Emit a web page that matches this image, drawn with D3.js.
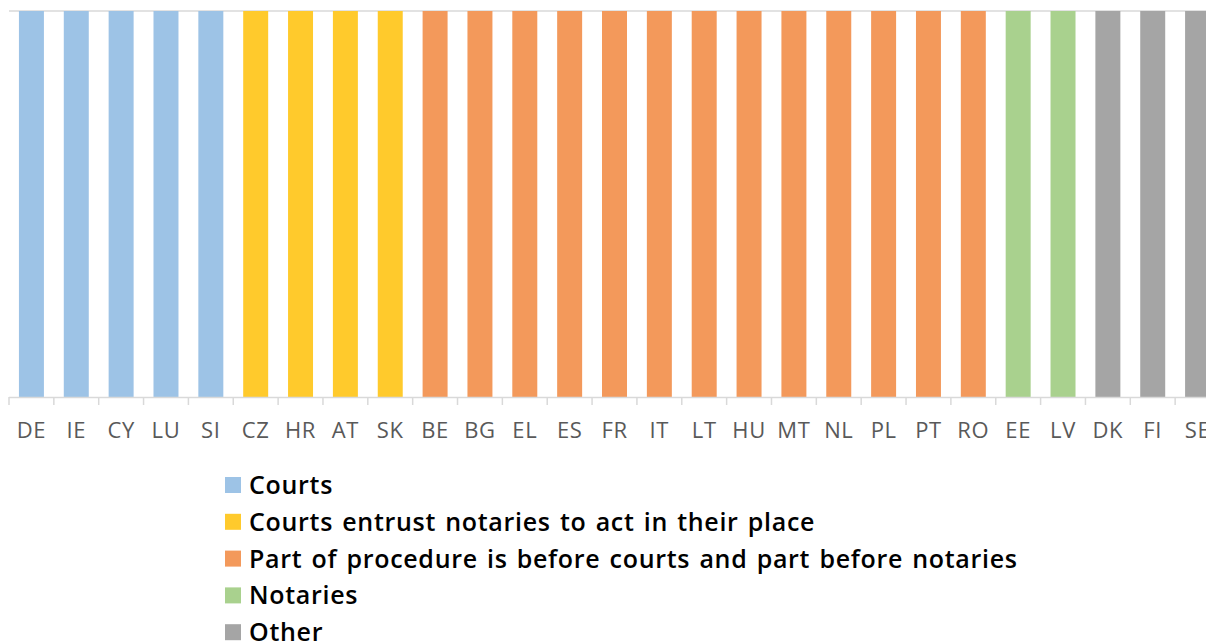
<!DOCTYPE html>
<html><head><meta charset="utf-8">
<script src="https://cdn.jsdelivr.net/npm/d3@7"></script>
<style>body{margin:0;background:#fff;overflow:hidden}</style>
</head><body><svg id="c" width="1206" height="642"></svg>
<script>
const categories = ["DE","IE","CY","LU","SI","CZ","HR","AT","SK","BE","BG","EL","ES","FR","IT","LT","HU","MT","NL","PL","PT","RO","EE","LV","DK","FI","SE"];
const values = [1,1,1,1,1,1,1,1,1,1,1,1,1,1,1,1,1,1,1,1,1,1,1,1,1,1,1];
const groups = ["Courts","Courts","Courts","Courts","Courts",
  "Courts entrust notaries to act in their place","Courts entrust notaries to act in their place","Courts entrust notaries to act in their place","Courts entrust notaries to act in their place",
  "Part of procedure is before courts and part before notaries","Part of procedure is before courts and part before notaries","Part of procedure is before courts and part before notaries","Part of procedure is before courts and part before notaries","Part of procedure is before courts and part before notaries","Part of procedure is before courts and part before notaries","Part of procedure is before courts and part before notaries","Part of procedure is before courts and part before notaries","Part of procedure is before courts and part before notaries","Part of procedure is before courts and part before notaries","Part of procedure is before courts and part before notaries","Part of procedure is before courts and part before notaries","Part of procedure is before courts and part before notaries",
  "Notaries","Notaries","Other","Other","Other"];
const legendLabels = ["Courts","Courts entrust notaries to act in their place","Part of procedure is before courts and part before notaries","Notaries","Other"];
const colors = ["#9dc3e6","#ffca2c","#f3995b","#a9d18e","#a5a5a5"];

const svg = d3.select("#c");
const x = d3.scaleBand().domain(categories).range([9, 1220]).paddingInner(0.443).paddingOuter(0.2215);
const y = d3.scaleLinear().domain([0,1]).range([397, 11]);
const color = d3.scaleOrdinal().domain(legendLabels).range(colors);

svg.append("line").attr("x1",9).attr("x2",1220).attr("y1",y(1)).attr("y2",y(1))
  .attr("stroke","#d9d9d9").attr("stroke-width",1.5);

svg.selectAll("rect.bar").data(categories).join("rect").attr("class","bar")
  .attr("x", d=>x(d)).attr("width", x.bandwidth())
  .attr("y", (d,i)=>y(values[i])).attr("height",(d,i)=>y(0)-y(values[i]))
  .attr("fill",(d,i)=>color(groups[i]));

const step = x.step();
const bounds = d3.range(categories.length+1).map(i=>9+i*step);
const ax = svg.append("g");
ax.append("line").attr("x1",9).attr("x2",1220).attr("y1",397.5).attr("y2",397.5).attr("stroke","#d9d9d9").attr("stroke-width",1.5);
ax.selectAll("line.t").data(bounds).join("line").attr("class","t")
  .attr("x1",d=>d).attr("x2",d=>d).attr("y1",397).attr("y2",405).attr("stroke","#d9d9d9").attr("stroke-width",1.5);
ax.selectAll("text").data(categories).join("text")
  .attr("x",d=>x(d)+x.bandwidth()/2).attr("y",437.5)
  .attr("text-anchor","middle").attr("font-family","Open Sans, sans-serif").attr("font-size",22)
  .attr("letter-spacing",0.6).attr("fill","#595959").text(d=>d);

const lg = svg.append("g");
legendLabels.forEach((l,i)=>{
  const yy = 485 + i*36.8;
  lg.append("rect").attr("x",225).attr("y",yy-8).attr("width",16).attr("height",16).attr("fill",colors[i]);
  lg.append("text").attr("x",249).attr("y",yy+9).attr("font-family","Open Sans, sans-serif")
    .attr("font-weight",600).attr("font-size",25).attr("letter-spacing",0.7).attr("word-spacing",2)
    .attr("fill","#000").text(l);
});
</script></body></html>
